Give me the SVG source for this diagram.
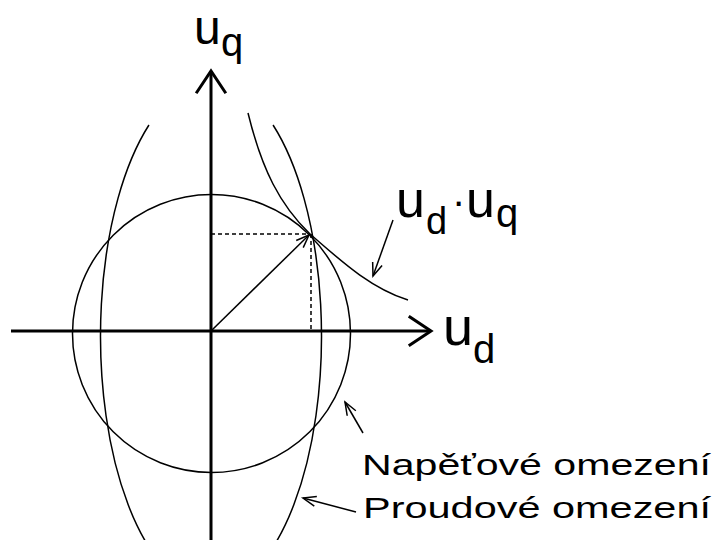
<svg xmlns="http://www.w3.org/2000/svg" width="718" height="540" viewBox="0 0 718 540">
  <style>
    .thin { fill: none; stroke: #000; stroke-width: 1.5; }
    .axis { fill: none; stroke: #000; stroke-width: 3; }
    .dash { fill: none; stroke: #000; stroke-width: 1.5; stroke-dasharray: 4 3; }
    .t { font-family: "Liberation Sans", Arial, sans-serif; fill: #000; }
  </style>
  <defs>
    <marker id="bigArrow" markerUnits="userSpaceOnUse" orient="auto" overflow="visible" markerWidth="1" markerHeight="1" refX="0" refY="0">
      <path d="M-21,-14 L0,0 L-21,14" fill="none" stroke="#000" stroke-width="3" stroke-linecap="square"/>
    </marker>
    <marker id="smallArrow" markerUnits="userSpaceOnUse" orient="auto" overflow="visible" markerWidth="1" markerHeight="1" refX="0" refY="0">
      <path d="M-13,-5 L0,0 L-13,5" fill="none" stroke="#000" stroke-width="1.5"/>
    </marker>
  </defs>
  <rect width="718" height="540" fill="#fff"/>

  <g id="axes">
    <line class="axis" x1="211" y1="540" x2="211" y2="71" marker-end="url(#bigArrow)"/>
    <line class="axis" x1="11" y1="331" x2="431" y2="331" marker-end="url(#bigArrow)"/>
  </g>

  <g id="voltage-limit">
    <circle class="thin" cx="211.5" cy="333.5" r="139"/>
  </g>

  <g id="current-limit">
    <path class="thin" d="M148.95,125 A110.5,255 0 1,0 273.05,125"/>
  </g>

  <g id="hyperbola">
    <path class="thin" d="M248,113 C262,170 280,205 310,234 C340,260 370,288 408,300"/>
  </g>

  <g id="connectors">
    <line class="dash" x1="211" y1="234" x2="310" y2="234"/>
    <line class="dash" x1="311" y1="234" x2="311" y2="331"/>
    <line class="thin" x1="211" y1="331" x2="309" y2="235" marker-end="url(#smallArrow)"/>
    <line class="thin" x1="393" y1="220" x2="373" y2="276" marker-end="url(#smallArrow)"/>
    <line class="thin" x1="363" y1="433" x2="345" y2="402" marker-end="url(#smallArrow)"/>
    <line class="thin" x1="356" y1="512" x2="303" y2="498" marker-end="url(#smallArrow)"/>
  </g>

  <g id="label-uq">
    <text class="t" x="194" y="44" font-size="48">u</text>
    <text class="t" x="221" y="56" font-size="40">q</text>
  </g>

  <g id="label-ud">
    <text class="t" x="443" y="345" font-size="54">u</text>
    <text class="t" x="473" y="363" font-size="40">d</text>
  </g>

  <g id="label-product">
    <text class="t" x="396" y="217" font-size="52">u</text>
    <text class="t" x="426" y="234" font-size="38">d</text>
    <text class="t" x="452" y="215" font-size="40">·</text>
    <text class="t" x="466" y="217" font-size="52">u</text>
    <text class="t" x="496" y="227" font-size="40">q</text>
  </g>

  <g id="label-voltage">
    <text class="t" x="362" y="475" font-size="30" textLength="349" lengthAdjust="spacingAndGlyphs">Napěťové omezení</text>
  </g>

  <g id="label-current">
    <text class="t" x="363" y="518" font-size="30" textLength="348" lengthAdjust="spacingAndGlyphs">Proudové omezení</text>
  </g>
</svg>
